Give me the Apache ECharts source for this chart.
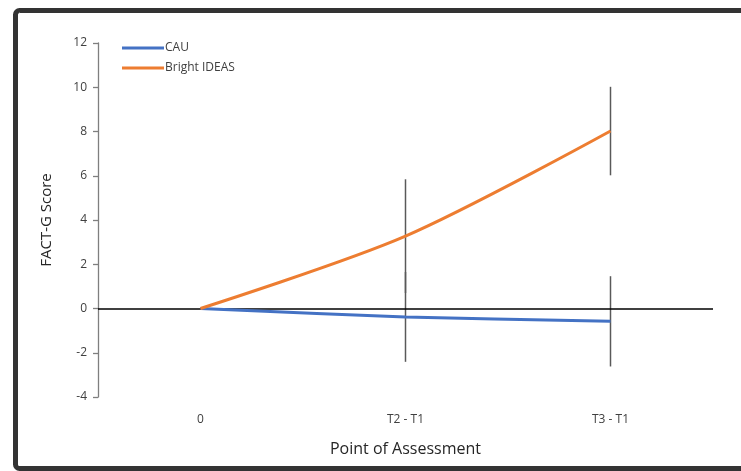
<!DOCTYPE html>
<html>
<head>
<meta charset="utf-8">
<script src="https://cdn.jsdelivr.net/npm/echarts@6/dist/echarts.min.js"></script>
<style>
html,body{margin:0;padding:0;background:#fff;}
#chart{width:741px;height:471px;}
</style>
</head>
<body>
<div id="chart"></div>
<script>
const categories = ['0', 'T2 - T1', 'T3 - T1'];
const cauValues = [0, -0.38, -0.58];
const brightValues = [0, 3.27, 8.02];
const cauErrors = [0, 2.03, 2.04];
const brightErrors = [0, 2.57, 2.0];
const yTicks = [-4, -2, 0, 2, 4, 6, 8, 10, 12];

const FONT = 'Open Sans';

function errData(vals, errs) {
  return vals.map((v, i) => [i, v - errs[i], v + errs[i]]);
}

function errRender(params, api) {
  const x = api.value(0);
  const lo = api.coord([x, api.value(1)]);
  const hi = api.coord([x, api.value(2)]);
  if (Math.abs(lo[1] - hi[1]) < 0.5) return null;
  return {
    type: 'line',
    shape: { x1: lo[0], y1: lo[1], x2: hi[0], y2: hi[1] },
    style: { stroke: '#595959', lineWidth: 1.5 }
  };
}

const chart = echarts.init(document.getElementById('chart'));
chart.setOption({
  animation: false,
  backgroundColor: '#ffffff',
  graphic: [{
    type: 'rect',
    shape: { x: 15.5, y: 10.5, width: 800, height: 458, r: 4 },
    style: { fill: 'none', stroke: '#333333', lineWidth: 5 },
    z: 100
  }],
  grid: { left: 98, right: 28, top: 43, bottom: 74 },
  legend: {
    orient: 'vertical',
    left: 117,
    top: 37,
    itemWidth: 42,
    itemHeight: 3,
    itemGap: 8,
    icon: 'rect',
    textStyle: { fontFamily: FONT, fontSize: 12, color: '#404040', padding: [0, 0, 0, -4] },
    data: ['CAU', 'Bright IDEAS']
  },
  xAxis: {
    type: 'category',
    data: categories,
    boundaryGap: true,
    position: 'bottom',
    axisLine: { show: false },
    axisTick: { show: false },
    axisLabel: { fontFamily: FONT, fontSize: 12, color: '#404040', margin: 17 },
    name: 'Point of Assessment',
    nameLocation: 'middle',
    nameGap: 44,
    nameTextStyle: { fontFamily: FONT, fontSize: 16, color: '#262626' }
  },
  yAxis: {
    type: 'value',
    min: -4,
    max: 12,
    interval: 2,
    axisLine: { show: true, onZero: false, lineStyle: { color: '#7f7f7f', width: 1.3 } },
    axisTick: { show: true, length: 5, lineStyle: { color: '#7f7f7f', width: 1.3 } },
    splitLine: { show: false },
    axisLabel: {
      fontFamily: FONT, fontSize: 12, color: '#404040', margin: 11,
      formatter: v => yTicks.includes(v) ? String(v) : ''
    },
    name: 'FACT-G Score',
    nameLocation: 'middle',
    nameGap: 44,
    nameTextStyle: { fontFamily: FONT, fontSize: 15, color: '#262626' }
  },
  series: [
    {
      type: 'custom',
      name: 'cauErr',
      renderItem: errRender,
      data: errData(cauValues, cauErrors),
      encode: { x: 0, y: [1, 2] },
      z: 1,
      silent: true
    },
    {
      type: 'custom',
      name: 'brightErr',
      renderItem: errRender,
      data: errData(brightValues, brightErrors),
      encode: { x: 0, y: [1, 2] },
      z: 1,
      silent: true
    },
    {
      type: 'line',
      name: 'CAU',
      data: cauValues,
      smooth: 0.3,
      symbol: 'none',
      color: '#4472C4',
      lineStyle: { color: '#4472C4', width: 3 },
      z: 3,
      markLine: {
        silent: true,
        symbol: 'none',
        label: { show: false },
        lineStyle: { color: '#000000', width: 1.5, type: 'solid' },
        data: [{ yAxis: 0 }],
        z: 2
      }
    },
    {
      type: 'line',
      name: 'Bright IDEAS',
      data: brightValues,
      smooth: 0.3,
      symbol: 'none',
      color: '#ED7D31',
      lineStyle: { color: '#ED7D31', width: 3 },
      z: 4
    }
  ]
});
</script>
</body>
</html>
